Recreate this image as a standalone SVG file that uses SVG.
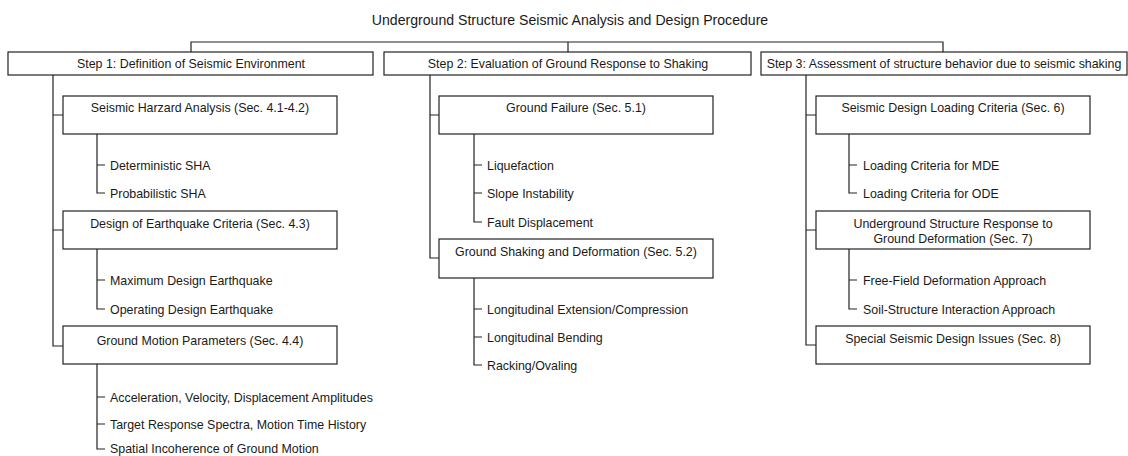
<svg xmlns="http://www.w3.org/2000/svg" width="1128" height="456" viewBox="0 0 1128 456">
<style>
text{font-family:"Liberation Sans",Arial,sans-serif;font-size:12.4px;fill:#1a1a1a}
.t{font-size:14.1px}
.c{text-anchor:middle}
rect{fill:#fff;stroke:#222;stroke-width:1.2}
.ln{fill:none;stroke:#222;stroke-width:1.2}
</style>
<rect x="0" y="0" width="1128" height="456" style="fill:#fff;stroke:none"/>
<text id="title" class="t c" x="570" y="25">Underground Structure Seismic Analysis and Design Procedure</text>
<g id="connectors" class="ln">
<path d="M191 52V42H943V52M568 42V52"/>
<path d="M53 75V346H63M53 115H63M53 230H63"/>
<path d="M97 134V193H105M97 165H105"/>
<path d="M97 249V309H105M97 280H105"/>
<path d="M97 364V449H105M97 397H105M97 424H105"/>
<path d="M430 75V258H439M430 115H439"/>
<path d="M474 134V222H482M474 165H482M474 193H482"/>
<path d="M474 278V365H482M474 309H482M474 337H482"/>
<path d="M806 75V345H816M806 115H816M806 230H816"/>
<path d="M849 134V193H857M849 165H857"/>
<path d="M849 249V309H857M849 280H857"/>
</g>
<g id="step1"><rect x="8" y="52" width="365" height="23"/><text class="c" x="191" y="68">Step 1: Definition of Seismic Environment</text></g>
<g id="step2"><rect x="384" y="52" width="367" height="23"/><text class="c" x="568" y="68">Step 2: Evaluation of Ground Response to Shaking</text></g>
<g id="step3"><rect x="761" y="52" width="366" height="23"/><text class="c" x="944" y="68">Step 3: Assessment of structure behavior due to seismic shaking</text></g>
<g id="sha"><rect x="63" y="96" width="274" height="38"/><text class="c" x="200" y="111.5">Seismic Harzard Analysis (Sec. 4.1-4.2)</text></g>
<g id="sha-leaves"><text x="110" y="169.5">Deterministic SHA</text><text x="110" y="197.5">Probabilistic SHA</text></g>
<g id="dec"><rect x="63" y="211" width="274" height="38"/><text class="c" x="200" y="227.5">Design of Earthquake Criteria (Sec. 4.3)</text></g>
<g id="dec-leaves"><text x="110" y="284.5">Maximum Design Earthquake</text><text x="110" y="313.5">Operating Design Earthquake</text></g>
<g id="gmp"><rect x="63" y="326" width="274" height="38"/><text class="c" x="200" y="345">Ground Motion Parameters (Sec. 4.4)</text></g>
<g id="gmp-leaves"><text x="110" y="401.5">Acceleration, Velocity, Displacement Amplitudes</text><text x="110" y="428.5">Target Response Spectra, Motion Time History</text><text x="110" y="453">Spatial Incoherence of Ground Motion</text></g>
<g id="gf"><rect x="439" y="96" width="274" height="38"/><text class="c" x="576" y="111.5">Ground Failure (Sec. 5.1)</text></g>
<g id="gf-leaves"><text x="487" y="169.5">Liquefaction</text><text x="487" y="197.5">Slope Instability</text><text x="487" y="226.5">Fault Displacement</text></g>
<g id="gsd"><rect x="439" y="239" width="274" height="39"/><text class="c" x="576" y="255.5">Ground Shaking and Deformation (Sec. 5.2)</text></g>
<g id="gsd-leaves"><text x="487" y="313.5">Longitudinal Extension/Compression</text><text x="487" y="341.5">Longitudinal Bending</text><text x="487" y="369.5">Racking/Ovaling</text></g>
<g id="sdlc"><rect x="816" y="96" width="274" height="38"/><text class="c" x="953" y="111.5">Seismic Design Loading Criteria (Sec. 6)</text></g>
<g id="sdlc-leaves"><text x="863" y="169.5">Loading Criteria for MDE</text><text x="863" y="197.5">Loading Criteria for ODE</text></g>
<g id="usr"><rect x="816" y="211" width="274" height="38"/><text class="c" x="953" y="227.5">Underground Structure Response to</text><text class="c" x="953" y="242.5">Ground Deformation (Sec. 7)</text></g>
<g id="usr-leaves"><text x="863" y="284.5">Free-Field Deformation Approach</text><text x="863" y="313.5">Soil-Structure Interaction Approach</text></g>
<g id="ssdi"><rect x="816" y="326" width="274" height="38"/><text class="c" x="953" y="342.5">Special Seismic Design Issues (Sec. 8)</text></g>
</svg>
